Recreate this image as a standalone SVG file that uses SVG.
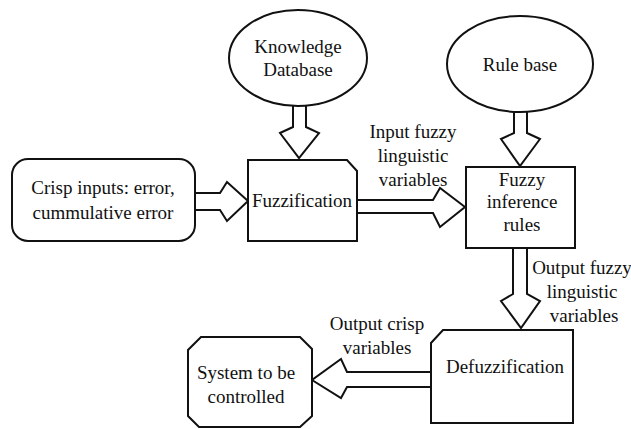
<svg xmlns="http://www.w3.org/2000/svg" width="631" height="429" viewBox="0 0 631 429">
<style>
.s{fill:#fff;stroke:#111;stroke-width:2;stroke-linejoin:miter}
.t{fill:#111;text-anchor:middle;font-family:'Liberation Serif','Times New Roman',serif !important;font-size:19px}
</style>
<rect width="631" height="429" fill="#fff"/>
<g id="connectors">
<polygon class="s" points="185,193 220,193 227,182 248,201 227,221 220,210 185,210"/>
<polygon class="s" points="293,95 293,127 280,133 299,158 319,133 306,127 306,95"/>
<polygon class="s" points="350,200 433,200 440,188 465,207 440,227 433,213 350,213"/>
<polygon class="s" points="514,100 514,133 501,139 520,166 540,139 527,133 527,100"/>
<polygon class="s" points="513,240 513,294 501,301 521,328 540,301 527,294 527,240"/>
<polygon class="s" points="440,372 347,372 341,359 312,380 341,398 347,387 440,387"/>
</g>
<g id="crisp">
<rect class="s" x="12" y="159" width="183" height="82" rx="16"/>
<text class="t" x="103" y="194" style="font-family:'Liberation Serif',serif">Crisp inputs: error,</text>
<text class="t" x="103" y="219" style="font-family:'Liberation Serif',serif">cummulative error</text>
</g>
<g id="knowledge">
<ellipse class="s" cx="298" cy="58" rx="69" ry="48"/>
<text class="t" x="298" y="53" style="font-family:'Liberation Serif',serif">Knowledge</text>
<text class="t" x="298" y="76" style="font-family:'Liberation Serif',serif">Database</text>
</g>
<g id="fuzzification">
<polygon class="s" points="248,160 347,160 357,171 357,241 248,241"/>
<text class="t" x="302" y="207" style="font-family:'Liberation Serif',serif">Fuzzification</text>
</g>
<g id="rulebase">
<ellipse class="s" cx="520" cy="64" rx="73" ry="48"/>
<text class="t" x="520" y="71" style="font-family:'Liberation Serif',serif">Rule base</text>
</g>
<g id="inference">
<rect class="s" x="466" y="167" width="109" height="81"/>
<text class="t" x="522" y="186" style="font-family:'Liberation Serif',serif">Fuzzy</text>
<text class="t" x="522" y="208" style="font-family:'Liberation Serif',serif">inference</text>
<text class="t" x="522" y="231" style="font-family:'Liberation Serif',serif">rules</text>
</g>
<g id="defuzzification">
<polygon class="s" points="443,330 573,330 573,423 431,423 431,343"/>
<text class="t" x="505" y="373" style="font-family:'Liberation Serif',serif">Defuzzification</text>
</g>
<g id="system">
<polygon class="s" points="201,337 300,337 312,349 312,416 300,427 199,427 188,416 188,350"/>
<text class="t" x="246" y="379" style="font-family:'Liberation Serif',serif">System to be</text>
<text class="t" x="246" y="403" style="font-family:'Liberation Serif',serif">controlled</text>
</g>
<g id="labels">
<text class="t" x="413" y="138" style="font-family:'Liberation Serif',serif">Input fuzzy</text>
<text class="t" x="413" y="162" style="font-family:'Liberation Serif',serif">linguistic</text>
<text class="t" x="413" y="186" style="font-family:'Liberation Serif',serif">variables</text>
<text class="t" x="582" y="274" style="font-family:'Liberation Serif',serif">Output fuzzy</text>
<text class="t" x="582" y="298" style="font-family:'Liberation Serif',serif">linguistic</text>
<text class="t" x="584" y="322" style="font-family:'Liberation Serif',serif">variables</text>
<text class="t" x="377" y="330" style="font-family:'Liberation Serif',serif">Output crisp</text>
<text class="t" x="377" y="354" style="font-family:'Liberation Serif',serif">variables</text>
</g>
</svg>
